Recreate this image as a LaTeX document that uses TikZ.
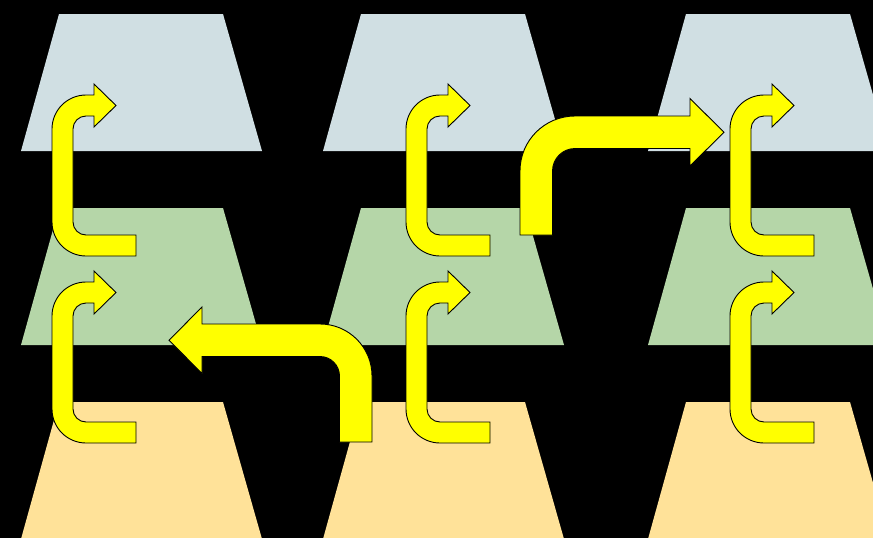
\documentclass[tikz,border=0pt]{standalone}
\definecolor{blueT}{HTML}{D0DFE3}
\definecolor{greenT}{HTML}{B5D6A8}
\definecolor{orangeT}{HTML}{FFE299}
\definecolor{arrowY}{HTML}{FFFF00}
\tikzset{
  trap/.style={draw=none},
  blockarrow/.style={fill=arrowY, draw=black, line width=0.9pt, line join=miter},
  uturn/.pic={
    \path[blockarrow] (136,256) -- (86,256) arc[start angle=90, end angle=180, radius=34]
      -- (52,129) arc[start angle=180, end angle=270, radius=34]
      -- (94,95) -- (94,84) -- (116,105.5) -- (94,127) -- (94,116) -- (86,116)
      arc[start angle=270, end angle=180, radius=13]
      -- (73,222) arc[start angle=180, end angle=90, radius=13]
      -- (136,235) -- cycle;
  }
}
\begin{document}
\begin{tikzpicture}[x=1pt,y=-1pt]
\fill[black] (0,0) rectangle (873,538);
\useasboundingbox (0,0) rectangle (873,538);
\begin{scope}
\clip (0,0) rectangle (873,538);
\foreach \x in {21,323,648}{
  \foreach \y/\c in {14/blueT,208/greenT,402/orangeT}{
    \fill[\c, trap] (\x+38,\y) -- (\x+202,\y) -- (\x+241,\y+137) -- (\x,\y+137) -- cycle;
  }
}
\end{scope}
% small U-turn arrows
\pic at (0,0) {uturn};
\pic at (0,187) {uturn};
\pic at (354,0) {uturn};
\pic at (354,187) {uturn};
\pic at (678,0) {uturn};
\pic at (678,187) {uturn};
% big arrow top (to the right)
\path[blockarrow] (520,235) -- (520,171) arc[start angle=180, end angle=270, radius=55]
  -- (690,116) -- (690,98.5) -- (724,132.25) -- (690,166) -- (690,148.5) -- (575,148.5)
  arc[start angle=270, end angle=180, radius=22.5] -- (552.5,235) -- cycle;
% big arrow bottom (to the left)
\path[blockarrow] (372,442) -- (372,376) arc[start angle=0, end angle=-90, radius=52]
  -- (202,324) -- (202,307) -- (169,340.25) -- (202,373.5) -- (202,356.5) -- (320,356.5)
  arc[start angle=-90, end angle=0, radius=19.5] -- (339.5,442) -- cycle;
\end{tikzpicture}
\end{document}
